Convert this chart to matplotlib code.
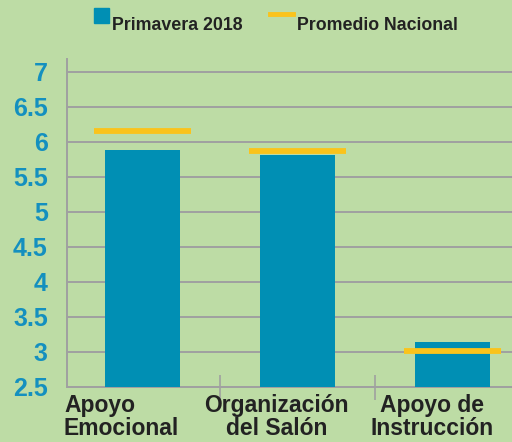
import matplotlib
matplotlib.use("Agg")
import matplotlib.pyplot as plt
from matplotlib.patches import Rectangle
from matplotlib.lines import Line2D

categories = ["Apoyo\nEmocional", "Organización\ndel Salón", "Apoyo de\nInstrucción"]
primavera_2018 = [5.88, 5.81, 3.14]
promedio_nacional = [6.15, 5.87, 3.01]
yticks = [2.5, 3, 3.5, 4, 4.5, 5, 5.5, 6, 6.5, 7]
ytick_labels = ["2.5", "3", "3.5", "4", "4.5", "5", "5.5", "6", "6.5", "7"]

BG = "#bddca5"
BAR = "#008fb4"
ORANGE = "#fac31c"
GRID = "#a0a0a0"
YLAB = "#1490bf"
TXT = "#222222"

W, H = 512, 442
fig = plt.figure(figsize=(W / 100, H / 100), dpi=100, facecolor=BG)
plt.rcParams['font.family'] = ['Liberation Sans', 'DejaVu Sans']

px_per_cat = 155.0
left_px, bottom_px, top_px = 67.3, 387.0, 59.0
xlim = (-(142.5 - left_px) / px_per_cat, 2.5)
width_px = (xlim[1] - xlim[0]) * px_per_cat
ax = fig.add_axes([left_px / W, (H - bottom_px) / H, width_px / W, (bottom_px - top_px) / H])
ax.set_facecolor(BG)

x = list(range(len(categories)))
ax.bar(x, primavera_2018, width=0.49, color=BAR, bottom=0, zorder=3)
for xi, v in zip(x, promedio_nacional):
    ax.hlines(v, xi - 0.315, xi + 0.315, color=ORANGE, lw=4.2, zorder=4)

ax.set_xlim(*xlim)
ax.set_ylim(2.5, 7.185)
ax.set_yticks(yticks)
ax.set_yticklabels(ytick_labels, fontsize=18, fontweight='bold', color=YLAB)
ax.yaxis.grid(True, color=GRID, lw=1.4, zorder=1)
ax.tick_params(axis='y', length=0, pad=14)

# category separators
ax.set_xticks([0.5, 1.5])
ax.set_xticklabels([])
ax.tick_params(axis='x', direction='inout', length=18, color=GRID, width=1.2)
for i, lab in enumerate(categories):
    ax.text(i - 0.135, -0.022, lab, transform=ax.get_xaxis_transform(),
            ha='center', va='top', fontsize=16.5, fontweight='bold', color=TXT,
            multialignment='left' if i == 0 else 'center', linespacing=0.98,
            clip_on=False)

for s in ['top', 'right']:
    ax.spines[s].set_visible(False)
for s in ['left', 'bottom']:
    ax.spines[s].set_color(GRID)
    ax.spines[s].set_linewidth(1.4)

# legend
fig.add_artist(Rectangle((94 / W, 1 - 22.7 / H), 15 / W, 14.7 / H,
                         transform=fig.transFigure, color=BAR))
fig.text(112 / W, 1 - 30 / H, "Primavera 2018", fontsize=12.8, fontweight='bold',
         color=TXT, ha='left', va='baseline')
fig.add_artist(Line2D([270 / W, 293 / W], [1 - 13.7 / H, 1 - 13.7 / H],
                      transform=fig.transFigure, color=ORANGE, lw=3.5))
fig.text(297 / W, 1 - 30 / H, "Promedio Nacional", fontsize=12.8, fontweight='bold',
         color=TXT, ha='left', va='baseline')

fig.savefig("out.png", dpi=100, facecolor=BG)
